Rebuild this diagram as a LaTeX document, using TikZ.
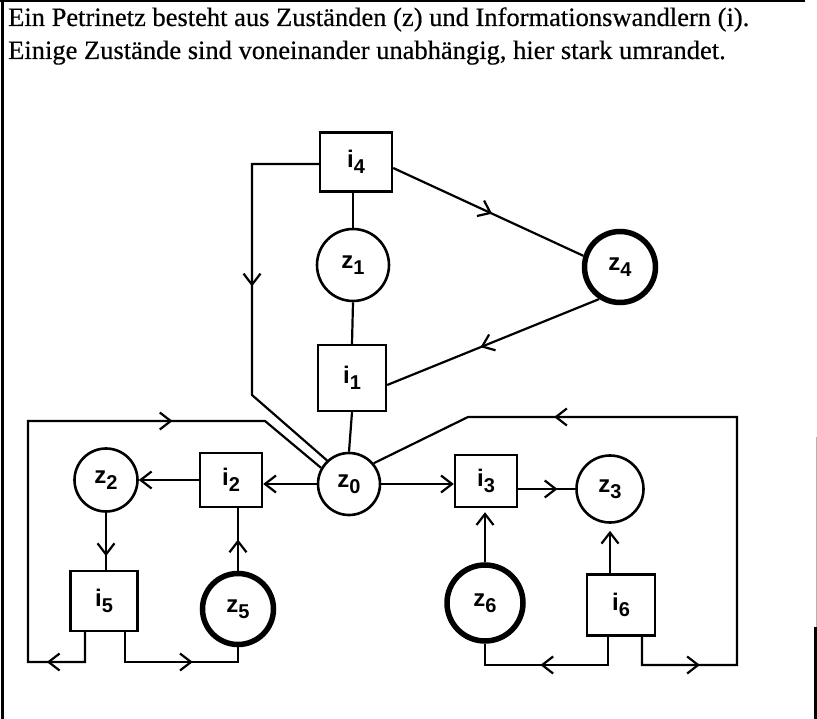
\documentclass[tikz,border=0pt]{standalone}
\usepackage{fontspec}
\setmainfont{Liberation Serif}
\newfontfamily\txtfont[FakeBold=0.5]{Liberation Serif}
\newfontfamily\labfont{Liberation Sans}
\usetikzlibrary{arrows.meta,decorations.markings,calc}
\newcommand{\plab}[2]{#1\raisebox{-6pt}{\fontsize{20pt}{20pt}\selectfont #2}}
\tikzset{
  conn/.style={line width=2.2pt},
  >={Straight Barb[length=11pt,width=17pt]},
  lab/.style={font=\labfont\bfseries\fontsize{24pt}{24pt}\selectfont},
  trans/.style={draw, rectangle, line width=2.4pt, inner sep=0pt, lab},
  st/.style={draw, circle, line width=2.6pt, inner sep=0pt, lab},
  ind/.style={st, line width=5.5pt},
  arrowat/.style={postaction={decorate}, decoration={markings, mark=at position #1 with {\arrow{>}}}},
  txt/.style={anchor=base west, inner sep=0pt, font=\txtfont\fontsize{26.5pt}{30pt}\selectfont},
}
\begin{document}
\begin{tikzpicture}[x=1pt,y=-1pt]
\useasboundingbox (0,0) rectangle (817,719);
% frame
\draw[line width=2.5pt] (0,1.2) -- (805,1.2);
\draw[line width=3.5pt] (2.5,0) -- (2.5,719);
\draw[gray!60, line width=1pt] (816,437) -- (816,627);
\draw[line width=2.5pt] (815.5,627) -- (815.5,719);
% text
\node[txt] (t1) at (8,26) {Ein Petrinetz besteht aus Zuständen (z) und Informationswandlern (i).};
\node[txt] (t2) at (8,59) {Einige Zustände sind voneinander unabhängig, hier stark umrandet.};
% nodes
\node[trans, minimum width=72pt, minimum height=59pt] (i4) at (356,162) {\plab{i}{4}};
\node[st, minimum size=72pt] (z1) at (353,265) {\plab{z}{1}};
\node[ind, minimum size=71pt] (z4) at (620,267) {\plab{z}{4}};
\node[trans, minimum width=68pt, minimum height=66pt] (i1) at (352,378) {\plab{i}{1}};
\node[st, minimum size=62pt] (z0) at (349,484) {\plab{z}{0}};
\node[trans, minimum width=62pt, minimum height=54pt] (i2) at (231,480) {\plab{i}{2}};
\node[st, minimum size=63pt] (z2) at (106,480) {\plab{z}{2}};
\node[trans, minimum width=67pt, minimum height=60pt] (i5) at (104,601) {\plab{i}{5}};
\node[ind, minimum size=71pt] (z5) at (238,609) {\plab{z}{5}};
\node[trans, minimum width=62pt, minimum height=52pt] (i3) at (486,481) {\plab{i}{3}};
\node[st, minimum size=67pt] (z3) at (610,489) {\plab{z}{3}};
\node[ind, minimum size=76pt] (z6) at (485,603) {\plab{z}{6}};
\node[trans, minimum width=68pt, minimum height=61pt] (i6) at (621,605) {\plab{i}{6}};
% corner coordinates
\coordinate (c1) at (252,164);
\coordinate (c2) at (252,395);
\coordinate (l1) at (85,662);
\coordinate (l2) at (28,662);
\coordinate (l3) at (28,421);
\coordinate (l4) at (265,421);
\coordinate (r1) at (125,662);
\coordinate (r2) at (238,662);
\coordinate (s1) at (608,665);
\coordinate (s2) at (485,665);
\coordinate (u1) at (642,665);
\coordinate (u2) at (737,665);
\coordinate (u3) at (737,417);
\coordinate (u4) at (468,417);
% plain connectors
\draw[conn] (i4.south -| z1.north) -- (z1.north);
\draw[conn] (z1.south) -- (i1.north);
\draw[conn] (i1.south) -- (z0.north);
% i4 -> z4 -> i1
\draw[conn, arrowat=0.52] ($(i4.east)+(0,6)$) -- (z4.163);
\draw[conn, arrowat=0.56] (z4.237) -- ($(i1.east)+(0,7)$);
% i4 -> z0 (left route)
\draw[conn, line join=miter] (i4.west |- c1) -- (c1) -- (c2) -- (z0.133);
\path[conn, arrowat=0.53] (c1) -- (c2);
% i5 -> z0 (left loop)
\draw[conn, line join=miter] (i5.south -| l1) -- (l1) -- (l2) -- (l3) -- (l4) -- (z0.150);
\path[conn, arrowat=0.67] (l1) -- (l2);
\path[conn, arrowat=0.61] (l3) -- (l4);
% i5 -> z5
\draw[conn, line join=miter] (i5.south -| r1) -- (r1) -- (r2) -- (z5.south);
\path[conn, arrowat=0.6] (r1) -- (r2);
% z5 -> i2
\draw[conn, arrowat=0.5] (z5.north) -- (z5.north |- i2.south);
% i2 -> z2, z0 -> i2
\draw[conn, ->] (i2.west) -- (z2.east);
\draw[conn, ->] (z0.west) -- (z0.west -| i2.east);
% z2 -> i5
\draw[conn, arrowat=0.76] (z2.south) -- (z2.south |- i5.north);
% z0 -> i3, i3 -> z3
\draw[conn, ->] (z0.east) -- (z0.east -| i3.west);
\draw[conn, arrowat=0.69] (z3.west -| i3.east) -- (z3.west);
% z6 -> i3, i6 -> z3
\draw[conn, ->, shorten >=4pt] (z6.north) -- (z6.north |- i3.south);
\draw[conn, ->, shorten >=7pt] (z3.south |- i6.north) -- (z3.south);
% i6 -> z6
\draw[conn, line join=miter] (i6.south -| s1) -- (s1) -- (s2) -- (z6.south);
\path[conn, arrowat=0.55] (s1) -- (s2);
% i6 -> z0 (right loop)
\draw[conn, line join=miter] (i6.south -| u1) -- (u1) -- (u2) -- (u3) -- (u4) -- (z0.40);
\path[conn, arrowat=0.61] (u1) -- (u2);
\path[conn, arrowat=0.68] (u3) -- (u4);
\end{tikzpicture}
\end{document}
